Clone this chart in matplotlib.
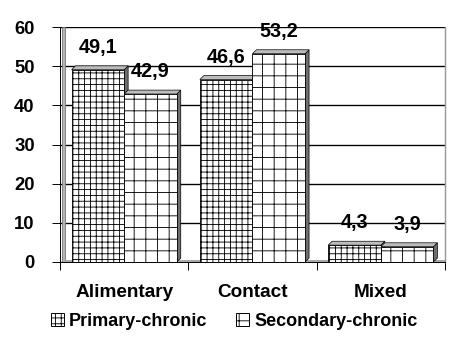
import matplotlib.pyplot as plt
import numpy as np
from matplotlib.patches import Polygon, Patch

# dados do gráfico
categorias = ['Alimentary', 'Contact', 'Mixed']
primario = [49.1, 46.6, 4.3]
secundario = [42.9, 53.2, 3.9]
series = ['Primary-chronic', 'Secondary-chronic']

plt.rcParams['font.family'] = ['Liberation Sans', 'DejaVu Sans']
plt.rcParams['font.weight'] = 'bold'
plt.rcParams['hatch.linewidth'] = 0.9

DPI = 70
fig = plt.figure(figsize=(464 / DPI, 347 / DPI), dpi=DPI)
ax = fig.add_axes([0.1293, 0.245, 0.8297, 0.677])

x = np.arange(len(categorias))
larg = 0.41
dx, dy = 0.031, 1.0  # profundidade "3D"

# parede lateral e piso cinza
ax.axvspan(-0.5 + 0.012, -0.5 + 0.042, facecolor='#b4b4b4', edgecolor='#707070',
           linewidth=0.8, zorder=1)
ax.axhspan(0, 0.5, xmin=0.01, color='#a8a8a8', zorder=1)

for vals, pos, hatch in [(primario, x - larg / 2, '++'), (secundario, x + larg / 2, '+')]:
    ax.bar(pos, vals, larg, color='white', edgecolor='black', hatch=hatch,
           linewidth=0.9, zorder=3)
    for xp, v in zip(pos, vals):
        x0, x1 = xp - larg / 2, xp + larg / 2
        lado = Polygon([(x1, 0), (x1, v), (x1 + dx, v + dy), (x1 + dx, dy)],
                       closed=True, facecolor='#6e6e6e', edgecolor='black',
                       linewidth=0.7, zorder=2)
        topo = Polygon([(x0, v), (x1, v), (x1 + dx, v + dy), (x0 + dx, v + dy)],
                       closed=True, facecolor='#bdbdbd', edgecolor='black',
                       linewidth=0.7, zorder=2)
        ax.add_patch(lado)
        ax.add_patch(topo)
        ax.annotate(f'{v:.1f}'.replace('.', ','), (xp, v), xytext=(0, 23),
                    textcoords='offset points', ha='center', va='center',
                    fontsize=20.5, fontweight='bold')

ax.set_xlim(-0.5, 2.5)
ax.set_ylim(0, 60)
ax.set_yticks(range(0, 61, 10))
ax.yaxis.grid(True, color='black', linewidth=1.4, zorder=0)
ax.set_axisbelow(True)

ax.set_xticks(x)
ax.set_xticklabels(categorias, fontsize=19.5, fontweight='bold')
ax.set_xticks([-0.5, 0.5, 1.5, 2.5], minor=True)
ax.tick_params(axis='x', which='major', length=0, pad=23)
ax.tick_params(axis='x', which='minor', length=8, width=1, direction='out')
ax.tick_params(axis='y', length=8, width=1, pad=18, labelsize=19)
for lb in ax.get_yticklabels():
    lb.set_fontweight('bold')

ax.spines['top'].set_visible(False)
ax.spines['right'].set_color('#9a9a9a')
ax.spines['right'].set_linewidth(1.5)
ax.spines['left'].set_linewidth(1)
ax.spines['bottom'].set_linewidth(1)

handles = [Patch(facecolor='white', edgecolor='black', hatch='++', label=series[0]),
           Patch(facecolor='white', edgecolor='black', hatch='+', label=series[1])]
fig.legend(handles=handles, loc='center', bbox_to_anchor=(0.505, 0.074), ncol=2,
           frameon=False, prop={'size': 18.5, 'weight': 'bold'},
           handlelength=0.7, handleheight=0.7, handletextpad=0.3, columnspacing=1.6)

fig.savefig('out.png', dpi=DPI)
